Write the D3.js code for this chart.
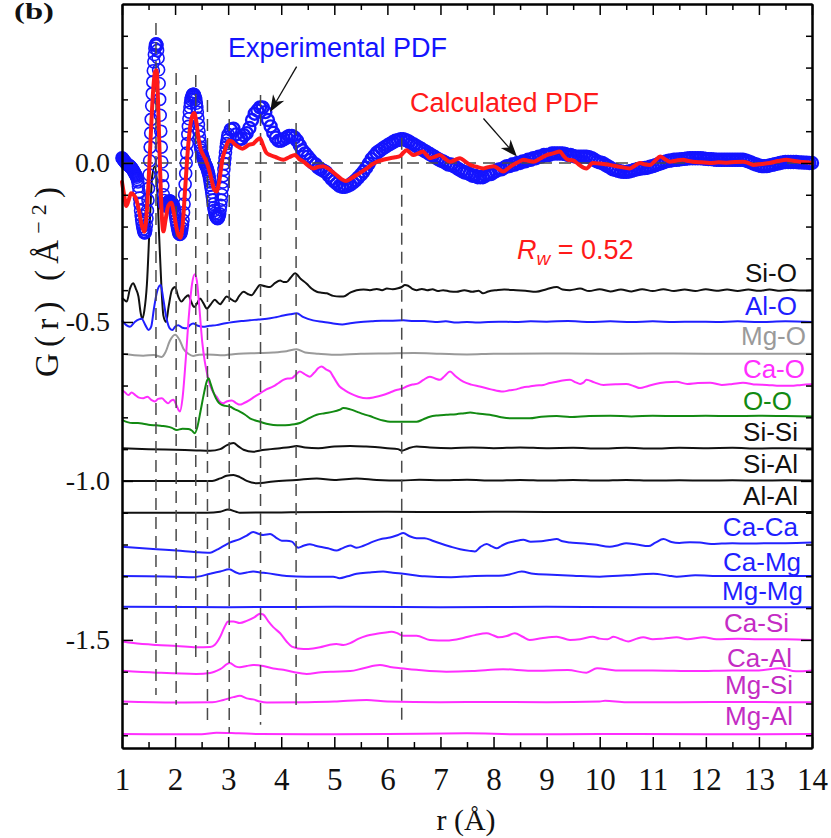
<!DOCTYPE html>
<html>
<head>
<meta charset="utf-8">
<script src="https://cdn.jsdelivr.net/npm/d3@7"></script>
<style>
  body { margin: 0; background: #fff; }
  svg { display: block; }
</style>
</head>
<body>
<svg id="chart" width="831" height="838"></svg>
<script>
// ---------------- data ----------------
// Experimental G(r): fine section r = 1.00 .. 3.00 (step 0.01)
const expFine = [
  .016,.014,.012,.009,.007,.005,.003,.001,-.001,-.003,
  -.005,-.006,-.007,-.008,-.009,-.010,-.012,-.014,-.016,-.018,
  -.020,-.023,-.026,-.029,-.032,-.035,-.038,-.041,-.045,-.052,
  -.060,-.074,-.090,-.110,-.130,-.150,-.165,-.178,-.190,-.200,
  -.208,-.215,-.219,-.220,-.217,-.210,-.195,-.175,-.150,-.117,
  -.080,-.037,.007,.050,.094,.137,.180,.218,.255,.290,
  .318,.341,.360,.370,.375,.374,.370,.354,.330,.293,
  .250,.200,.150,.100,.050,.003,-.040,-.072,-.100,-.118,
  -.130,-.133,-.135,-.135,-.132,-.128,-.125,-.123,-.121,-.120,
  -.120,-.120,-.121,-.123,-.125,-.128,-.131,-.135,-.140,-.149,
  -.159,-.169,-.180,-.189,-.198,-.207,-.215,-.220,-.223,-.225,
  -.223,-.220,-.215,-.205,-.194,-.180,-.156,-.129,-.100,-.067,
  -.033,.000,.031,.061,.090,.115,.139,.160,.176,.189,
  .200,.206,.211,.215,.216,.216,.215,.211,.206,.200,
  .188,.175,.160,.141,.121,.100,.082,.065,.050,.041,
  .033,.026,.020,.015,.010,.005,.000,-.004,-.008,-.011,
  -.015,-.021,-.027,-.033,-.040,-.050,-.060,-.070,-.080,-.092,
  -.105,-.117,-.130,-.140,-.149,-.158,-.165,-.169,-.172,-.174,
  -.175,-.174,-.171,-.166,-.160,-.147,-.133,-.117,-.100,-.080,
  -.060,-.040,-.020,-.002,.016,.033,.050,.061,.072,.081,
  .090
];
// Experimental G(r): coarse section r = 3.05 .. 14.00 (step 0.05)
const expCoarse = [
  .105,.108,.090,.075,.076,.087,.094,.110,.135,.155,.165,.175,.175,.160,.135,.115,.095,.080,.070,.070,
  .075,.080,.085,.085,.080,.070,.055,.040,.030,.020,.010,.000,-.005,-.015,-.020,-.025,-.030,-.040,-.050,-.058,
  -.065,-.072,-.075,-.075,-.072,-.068,-.062,-.055,-.046,-.037,-.027,-.015,-.002,.012,.022,.032,.038,.044,.050,.055,
  .060,.065,.070,.072,.075,.075,.072,.068,.062,.058,.053,.048,.043,.038,.033,.028,.023,.018,.013,.008,
  .005,.000,-.005,-.005,-.010,-.015,-.020,-.025,-.030,-.030,-.035,-.040,-.040,-.045,-.045,-.045,-.040,-.035,-.035,-.030,
  -.025,-.020,-.020,-.015,-.010,-.010,-.005,-.005,.000,.000,.005,.005,.010,.010,.015,.015,.020,.020,.025,.025,
  .025,.030,.030,.030,.030,.030,.028,.025,.025,.022,.020,.020,.020,.020,.020,.018,.015,.010,.005,.002,
  .000,-.005,-.010,-.015,-.020,-.022,-.025,-.027,-.028,-.028,-.027,-.025,-.022,-.020,-.018,-.017,-.016,-.015,-.012,-.010,
  -.007,-.004,-.001,.002,.005,.007,.008,.010,.010,.011,.012,.013,.014,.015,.015,.015,.015,.015,.014,.013,
  .012,.012,.011,.010,.010,.010,.010,.010,.010,.010,.010,.010,.010,.010,.008,.005,.002,-.002,-.005,-.008,
  -.010,-.010,-.010,-.008,-.006,-.004,-.002,.000,.002,.003,.003,.003,.003,.003,.002,.002,.001,.001,.000,.000
];

// Calculated G(r) as [r, G]
const calc = [
  [1.00,-0.060],[1.04,-0.100],[1.08,-0.135],[1.12,-0.120],[1.17,-0.095],[1.22,-0.100],[1.27,-0.115],
  [1.32,-0.150],[1.37,-0.195],[1.42,-0.216],[1.46,-0.170],[1.50,-0.060],[1.54,0.080],[1.58,0.210],
  [1.62,0.285],[1.65,0.292],[1.68,0.190],[1.71,0.020],[1.74,-0.130],[1.78,-0.215],[1.82,-0.180],
  [1.87,-0.135],[1.93,-0.125],[1.98,-0.160],[2.04,-0.215],[2.10,-0.235],[2.14,-0.200],[2.19,-0.080],
  [2.25,0.060],[2.31,0.140],[2.36,0.157],[2.40,0.130],[2.44,0.080],[2.48,0.045],[2.53,0.025],
  [2.58,0.008],[2.63,-0.015],[2.69,-0.055],[2.74,-0.085],[2.78,-0.090],[2.83,-0.060],[2.89,0.010],
  [2.95,0.045],[3.01,0.070],[3.07,0.068],[3.13,0.058],[3.20,0.050],[3.27,0.045],[3.33,0.050],
  [3.40,0.058],[3.47,0.060],[3.53,0.070],[3.60,0.078],[3.66,0.055],[3.72,0.032],[3.79,0.025],
  [3.90,0.018],[4.04,0.010],[4.15,0.018],[4.26,0.025],[4.34,0.012],[4.42,0.004],[4.51,-0.008],
  [4.60,-0.017],[4.70,-0.012],[4.79,-0.010],[4.86,-0.015],[4.92,-0.022],[5.04,-0.038],[5.13,-0.050],
  [5.22,-0.057],[5.32,-0.048],[5.42,-0.038],[5.52,-0.027],[5.61,-0.017],[5.70,-0.006],[5.80,0.004],
  [5.92,0.010],[6.05,0.015],[6.15,0.018],[6.24,0.022],[6.30,0.032],[6.36,0.040],[6.43,0.032],
  [6.49,0.025],[6.58,0.030],[6.67,0.036],[6.74,0.025],[6.80,0.015],[6.90,0.020],[6.99,0.025],
  [7.08,0.014],[7.18,0.004],[7.28,0.010],[7.37,0.015],[7.47,0.004],[7.56,-0.006],[7.68,-0.012],
  [7.81,-0.017],[7.90,-0.013],[8.00,-0.010],[8.09,-0.018],[8.18,-0.027],[8.28,-0.016],[8.37,-0.006],
  [8.47,0.003],[8.56,0.010],[8.66,0.007],[8.75,0.004],[8.88,0.014],[9.00,0.025],[9.12,0.030],
  [9.25,0.036],[9.32,0.022],[9.40,0.010],[9.50,0.008],[9.60,-0.004],[9.75,-0.017],[9.87,0.000],
  [10.00,-0.002],[10.19,-0.006],[10.38,-0.012],[10.57,-0.017],[10.67,-0.008],[10.76,0.000],[10.86,-0.005],
  [10.95,-0.006],[11.05,0.008],[11.14,0.020],[11.23,0.012],[11.32,0.004],[11.45,0.008],[11.57,0.010],
  [11.67,0.006],[11.76,0.004],[11.92,0.002],[12.08,0.000],[12.24,0.002],[12.39,0.001],[12.55,0.003],
  [12.70,0.004],[12.80,0.000],[12.89,-0.006],[13.05,-0.003],[13.20,0.000],[13.36,0.006],[13.52,0.010],
  [13.65,0.007],[13.77,0.004],[13.90,0.002],[14.00,0.000]
];

// Partial pair functions as [r, G] (drawn shifted by their offsets)
const pSiO = [
  [1.00,-0.025],[1.04,-0.030],[1.09,-0.036],[1.15,0.005],[1.21,0.022],[1.26,0.005],[1.31,-0.020],
  [1.35,-0.070],[1.38,-0.090],[1.42,-0.065],[1.47,0.020],[1.52,0.200],[1.57,0.360],[1.62,0.390],
  [1.66,0.330],[1.70,0.170],[1.74,0.020],[1.78,-0.080],[1.83,-0.100],[1.88,-0.050],[1.94,0.000],
  [2.00,0.010],[2.06,-0.020],[2.12,-0.036],[2.18,-0.025],[2.25,-0.016],[2.30,-0.035],[2.36,-0.053],
  [2.42,-0.040],[2.47,-0.026],[2.53,-0.040],[2.60,-0.058],[2.67,-0.045],[2.75,-0.030],[2.80,-0.038],
  [2.85,-0.044],[2.91,-0.032],[2.97,-0.020],[3.05,-0.028],[3.13,-0.036],[3.21,-0.018],[3.29,-0.005],
  [3.37,-0.012],[3.44,-0.016],[3.52,0.000],[3.60,0.016],[3.70,0.012],[3.79,0.010],[3.88,0.022],
  [3.98,0.030],[4.04,0.026],[4.10,0.026],[4.18,0.040],[4.26,0.053],[4.37,0.035],[4.48,0.020],
  [4.57,0.005],[4.67,-0.005],[4.76,-0.008],[4.86,-0.010],[4.98,-0.018],[5.10,-0.020],[5.17,-0.020],
  [5.30,-0.008],[5.42,0.000],[5.55,0.002],[5.67,0.000],[5.80,0.004],[5.90,0.000],[5.99,0.005],
  [6.10,0.003],[6.20,0.006],[6.27,0.010],[6.33,0.016],[6.39,0.014],[6.47,0.004],[6.55,0.000],
  [6.65,0.004],[6.75,0.000],[6.85,0.003],[6.95,-0.003],[7.05,0.000],[7.18,-0.004],[7.30,-0.005],
  [7.45,0.000],[7.60,-0.005],[7.72,-0.002],[7.80,-0.010],[7.90,-0.004],[8.06,0.000],[8.20,0.002],
  [8.43,0.000],[8.60,-0.002],[8.80,-0.005],[9.00,0.003],[9.19,0.010],[9.30,0.002],[9.44,0.000],
  [9.63,0.005],[9.80,-0.003],[10.0,0.003],[10.2,-0.004],[10.4,0.002],[10.6,-0.004],[10.8,0.003],
  [11.0,-0.003],[11.2,0.003],[11.4,-0.003],[11.6,0.002],[11.8,-0.003],[12.0,0.003],[12.2,-0.002],
  [12.4,0.002],[12.6,-0.003],[12.8,0.002],[13.0,-0.002],[13.2,0.002],[13.4,-0.002],[13.6,0.001],
  [13.8,-0.001],[14.0,0.000]
];
const pAlO = [
  [1.00,0.005],[1.08,-0.010],[1.15,-0.015],[1.24,0.000],[1.32,0.008],[1.37,0.010],[1.44,-0.010],
  [1.50,-0.025],[1.55,-0.015],[1.60,0.040],[1.66,0.095],[1.73,0.116],[1.78,0.070],[1.84,0.010],
  [1.90,-0.020],[1.95,-0.025],[2.00,-0.015],[2.06,-0.010],[2.14,-0.018],[2.22,-0.020],[2.28,-0.010],
  [2.34,-0.005],[2.43,-0.012],[2.53,-0.015],[2.65,-0.012],[2.78,-0.010],[2.95,-0.004],[3.10,0.000],
  [3.25,0.003],[3.41,0.005],[3.57,0.008],[3.73,0.010],[3.90,0.015],[4.04,0.020],[4.17,0.024],
  [4.29,0.027],[4.42,0.015],[4.60,0.005],[4.80,0.000],[4.98,-0.005],[5.15,-0.008],[5.30,-0.004],
  [5.50,0.000],[5.70,0.002],[5.90,0.004],[6.10,0.004],[6.30,0.005],[6.50,0.003],[6.70,0.003],
  [6.90,0.000],[7.10,0.002],[7.30,-0.002],[7.50,0.000],[7.70,-0.002],[7.90,0.000],[8.10,0.001],
  [8.40,0.000],[8.70,0.002],[9.00,0.001],[9.40,0.003],[9.80,0.000],[10.2,0.002],[10.6,0.000],
  [11.0,0.002],[11.4,0.000],[11.8,0.001],[12.2,0.000],[12.6,0.002],[13.0,0.000],[13.5,0.002],[14.0,0.000]
];
const pMgO = [
  [1.00,0.000],[1.40,-0.006],[1.60,-0.004],[1.75,-0.010],[1.82,0.005],[1.90,0.040],[2.00,0.060],
  [2.08,0.045],[2.16,0.015],[2.25,0.000],[2.34,-0.007],[2.45,-0.003],[2.60,-0.002],[2.85,-0.005],
  [3.20,0.000],[3.60,0.002],[3.85,0.004],[4.10,0.008],[4.29,0.014],[4.45,0.004],[4.70,0.000],
  [5.00,-0.003],[5.50,0.000],[6.00,0.001],[6.50,0.002],[7.00,0.000],[7.50,-0.002],[8.00,0.000],
  [9.00,0.001],[10.0,0.000],[11.0,0.001],[12.0,0.000],[13.0,0.000],[14.0,0.000]
];
const pCaO = [
  [1.00,-0.014],[1.06,-0.022],[1.12,-0.030],[1.18,-0.022],[1.25,-0.030],[1.32,-0.038],[1.40,-0.040],
  [1.48,-0.035],[1.55,-0.045],[1.62,-0.050],[1.68,-0.042],[1.75,-0.040],[1.82,-0.050],[1.87,-0.056],
  [1.92,-0.048],[1.97,-0.045],[2.02,-0.060],[2.06,-0.075],[2.09,-0.082],[2.14,-0.040],[2.20,0.080],
  [2.26,0.220],[2.32,0.320],[2.37,0.350],[2.41,0.330],[2.46,0.240],[2.51,0.140],[2.56,0.075],
  [2.60,0.040],[2.66,0.000],[2.72,-0.022],[2.78,-0.035],[2.84,-0.050],[2.91,-0.056],[2.97,-0.050],
  [3.07,-0.047],[3.15,-0.055],[3.22,-0.060],[3.30,-0.055],[3.41,-0.045],[3.50,-0.035],[3.60,-0.025],
  [3.72,-0.012],[3.85,-0.003],[3.95,0.008],[4.04,0.018],[4.12,0.022],[4.20,0.023],[4.28,0.035],
  [4.35,0.044],[4.44,0.036],[4.54,0.028],[4.62,0.040],[4.70,0.055],[4.76,0.060],[4.85,0.050],
  [4.92,0.044],[4.98,0.028],[5.10,-0.003],[5.20,-0.015],[5.30,-0.025],[5.45,-0.035],[5.61,-0.040],
  [5.75,-0.037],[5.92,-0.030],[6.05,-0.022],[6.17,-0.014],[6.27,-0.010],[6.36,-0.003],[6.47,0.003],
  [6.58,0.007],[6.68,0.018],[6.80,0.028],[6.90,0.022],[6.99,0.018],[7.08,0.030],[7.18,0.044],
  [7.28,0.030],[7.43,0.012],[7.58,0.003],[7.74,-0.003],[7.95,-0.012],[8.18,-0.019],[8.30,-0.015],
  [8.43,-0.012],[8.55,-0.006],[8.68,-0.003],[8.80,0.000],[8.94,0.002],[9.06,0.008],[9.19,0.012],
  [9.30,0.016],[9.44,0.018],[9.55,0.010],[9.63,0.005],[9.70,0.010],[9.75,0.018],[9.90,0.010],
  [10.07,0.002],[10.30,0.004],[10.50,0.005],[10.65,-0.002],[10.76,-0.008],[10.90,-0.002],[11.05,0.005],
  [11.25,0.010],[11.45,0.012],[11.65,0.005],[11.85,0.008],[12.08,0.009],[12.30,0.002],[12.50,0.005],
  [12.70,0.009],[12.95,0.003],[13.15,0.002],[13.40,-0.001],[13.60,-0.001],[13.80,0.002],[14.00,0.004]
];
const pOO = [
  [1.00,-0.008],[1.10,-0.015],[1.20,-0.018],[1.30,-0.018],[1.40,-0.020],[1.53,-0.024],[1.65,-0.025],
  [1.75,-0.027],[1.84,-0.029],[1.94,-0.033],[2.03,-0.040],[2.14,-0.036],[2.25,-0.037],[2.32,-0.042],
  [2.37,-0.050],[2.42,-0.030],[2.48,0.020],[2.55,0.080],[2.60,0.115],[2.63,0.123],[2.67,0.105],
  [2.72,0.080],[2.77,0.060],[2.83,0.045],[2.88,0.039],[2.95,0.036],[3.03,0.034],[3.12,0.026],
  [3.22,0.018],[3.32,0.008],[3.41,-0.003],[3.50,-0.009],[3.60,-0.014],[3.72,-0.020],[3.85,-0.024],
  [4.00,-0.025],[4.15,-0.024],[4.25,-0.022],[4.35,-0.018],[4.50,-0.005],[4.67,0.008],[4.82,0.013],
  [4.98,0.018],[5.10,0.024],[5.17,0.029],[5.30,0.025],[5.42,0.018],[5.55,0.010],[5.67,0.004],
  [5.80,-0.004],[5.92,-0.010],[6.05,-0.014],[6.30,-0.014],[6.55,-0.014],[6.68,-0.006],[6.80,0.002],
  [6.95,0.006],[7.11,0.008],[7.30,0.010],[7.45,0.013],[7.56,0.015],[7.70,0.012],[7.93,0.008],
  [8.10,0.002],[8.31,-0.003],[8.50,-0.003],[8.68,-0.003],[8.90,0.002],[9.19,0.004],[9.44,0.001],
  [9.80,0.004],[10.2,0.005],[10.6,0.003],[11.0,0.005],[11.5,0.004],[12.0,0.005],[12.5,0.004],
  [13.0,0.005],[13.5,0.004],[14.0,0.003]
];
const pSiSi = [
  [1.00,0.003],[1.50,0.000],[2.00,-0.002],[2.40,-0.004],[2.66,-0.005],[2.85,0.000],[2.97,0.012],
  [3.10,0.019],[3.20,0.008],[3.29,-0.002],[3.47,-0.008],[3.65,-0.003],[3.98,0.003],[4.15,0.006],
  [4.29,0.010],[4.45,0.005],[4.70,0.003],[5.00,0.008],[5.30,0.010],[5.60,0.008],[6.00,0.003],
  [6.20,0.000],[6.27,-0.005],[6.40,0.003],[6.55,0.008],[6.80,0.005],[7.20,0.003],[7.60,0.005],
  [8.00,0.003],[8.50,0.005],[9.00,0.003],[9.50,0.004],[10.0,0.002],[10.5,0.004],[11.0,0.002],
  [11.5,0.004],[12.0,0.003],[12.5,0.004],[13.0,0.002],[13.5,0.003],[14.0,0.002]
];
const pSiAl = [
  [1.00,0.000],[2.00,0.000],[2.70,0.000],[2.85,0.008],[2.97,0.016],[3.10,0.019],[3.22,0.012],
  [3.35,0.000],[3.54,-0.007],[3.85,-0.002],[4.29,0.003],[4.67,0.008],[5.00,0.003],[5.42,0.008],
  [5.80,0.003],[6.27,0.001],[6.60,0.004],[7.00,0.002],[7.50,0.004],[8.00,0.001],[8.50,0.003],
  [9.00,0.001],[9.50,0.003],[10.0,0.001],[10.5,0.003],[11.0,0.001],[11.5,0.002],[12.0,0.001],
  [12.5,0.002],[13.0,0.001],[13.5,0.002],[14.0,0.001]
];
const pAlAl = [
  [1.00,0.000],[2.60,0.000],[2.85,0.003],[3.00,0.010],[3.15,0.003],[3.22,0.000],[4.00,0.001],
  [5.00,0.002],[6.00,0.003],[7.00,0.002],[8.00,0.003],[9.00,0.002],[10.0,0.002],[11.0,0.002],
  [12.0,0.002],[13.0,0.002],[14.0,0.002]
];
const pCaCa = [
  [1.00,-0.007],[1.65,-0.015],[2.03,-0.019],[2.40,-0.024],[2.66,-0.026],[2.78,-0.017],[2.90,-0.006],
  [3.03,0.006],[3.22,0.017],[3.35,0.028],[3.47,0.039],[3.57,0.034],[3.66,0.030],[3.79,0.033],
  [3.90,0.022],[4.01,0.012],[4.10,0.012],[4.20,0.009],[4.32,-0.010],[4.42,-0.004],[4.54,0.001],
  [4.63,-0.003],[4.73,-0.007],[4.88,-0.012],[5.04,-0.019],[5.15,-0.012],[5.30,-0.003],[5.42,-0.010],
  [5.55,-0.004],[5.73,0.009],[5.90,0.018],[6.05,0.022],[6.20,0.030],[6.30,0.036],[6.42,0.026],
  [6.55,0.020],[6.70,0.020],[6.85,0.012],[6.99,0.004],[7.18,-0.006],[7.37,-0.015],[7.55,-0.020],
  [7.65,-0.022],[7.75,-0.008],[7.87,0.002],[7.97,-0.006],[8.06,-0.012],[8.15,-0.004],[8.25,0.004],
  [8.40,0.010],[8.56,0.015],[8.70,0.009],[8.90,0.010],[9.05,0.014],[9.19,0.017],[9.30,0.010],
  [9.44,0.006],[9.63,0.004],[9.90,0.000],[10.19,-0.007],[10.35,-0.002],[10.50,0.004],[10.70,0.000],
  [10.92,-0.005],[11.05,0.006],[11.20,0.017],[11.35,0.008],[11.50,0.005],[11.70,0.007],[11.89,0.006],
  [12.10,0.002],[12.30,0.003],[12.50,0.004],[12.80,0.003],[13.10,0.004],[13.50,0.004],[14.00,0.006]
];
const pCaMg = [
  [1.00,0.001],[2.00,-0.001],[2.34,-0.003],[2.66,0.008],[2.85,0.015],[3.02,0.022],[3.15,0.012],
  [3.22,0.008],[3.35,0.012],[3.47,0.015],[3.60,0.012],[3.73,0.010],[4.10,0.001],[4.48,-0.001],
  [4.98,-0.001],[5.10,-0.006],[5.25,0.000],[5.42,0.008],[5.65,0.012],[5.92,0.015],[6.10,0.011],
  [6.30,0.008],[6.70,0.000],[7.20,-0.003],[7.65,0.001],[8.10,0.002],[8.30,0.006],[8.53,0.015],
  [8.75,0.008],[9.10,0.005],[9.50,0.002],[10.0,-0.001],[10.5,0.003],[11.01,0.008],[11.3,0.002],
  [11.45,-0.001],[11.8,0.003],[12.3,0.001],[12.8,0.001],[13.3,0.001],[14.0,0.001]
];
const pMgMg = [
  [1.00,0.004],[3.00,0.003],[5.00,0.004],[7.00,0.003],[9.00,0.004],[11.0,0.003],[14.0,0.003]
];
const pCaSi = [
  [1.00,-0.005],[1.21,-0.010],[1.65,-0.016],[2.03,-0.019],[2.40,-0.023],[2.66,-0.022],[2.75,-0.015],
  [2.85,0.010],[2.93,0.040],[3.00,0.058],[3.10,0.058],[3.22,0.053],[3.35,0.060],[3.50,0.072],
  [3.60,0.082],[3.66,0.080],[3.75,0.060],[3.85,0.040],[3.98,0.021],[4.10,-0.005],[4.20,-0.021],
  [4.42,-0.029],[4.60,-0.027],[4.73,-0.023],[4.90,-0.016],[5.04,-0.013],[5.17,-0.016],[5.30,-0.010],
  [5.45,0.003],[5.61,0.013],[5.80,0.019],[6.00,0.024],[6.08,0.026],[6.20,0.020],[6.30,0.013],
  [6.55,0.013],[6.80,0.000],[7.11,-0.002],[7.43,0.006],[7.65,0.015],[7.87,0.021],[8.00,0.014],
  [8.10,0.008],[8.25,0.012],[8.40,0.021],[8.55,0.010],[8.68,0.000],[8.90,0.005],[9.19,0.010],
  [9.44,0.000],[9.63,0.002],[9.87,0.010],[10.0,0.004],[10.15,0.002],[10.26,0.010],[10.40,0.002],
  [10.54,-0.005],[10.70,0.004],[10.82,0.008],[11.0,0.002],[11.2,0.004],[11.45,0.008],[11.65,0.002],
  [11.96,0.008],[12.2,0.002],[12.6,0.004],[13.0,0.002],[13.5,0.002],[14.0,0.000]
];
const pCaAl = [
  [1.00,0.003],[1.65,-0.003],[2.40,-0.007],[2.66,-0.004],[2.85,0.008],[3.03,0.027],[3.15,0.016],
  [3.22,0.014],[3.35,0.018],[3.47,0.021],[3.66,0.018],[3.85,0.010],[4.04,0.006],[4.25,-0.002],
  [4.48,-0.007],[4.75,-0.002],[4.98,0.000],[5.30,0.002],[5.55,0.011],[5.86,0.021],[6.05,0.015],
  [6.24,0.011],[6.55,0.006],[7.11,0.000],[7.60,0.002],[8.18,0.008],[8.70,0.003],[9.40,0.005],
  [9.75,-0.003],[9.95,0.011],[10.3,0.004],[11.0,0.004],[11.8,0.002],[12.5,0.004],[13.0,0.004],
  [13.4,0.011],[13.7,0.001],[14.0,0.004]
];
const pMgSi = [
  [1.00,0.006],[2.00,0.003],[2.70,0.004],[2.91,0.011],[3.10,0.020],[3.22,0.024],[3.35,0.016],
  [3.47,0.013],[3.60,0.006],[3.73,0.003],[4.50,0.004],[5.00,0.006],[5.61,0.011],[6.00,0.006],
  [7.00,0.004],[8.00,0.005],[9.00,0.004],[10.0,0.006],[10.1,0.009],[10.5,0.004],[11.5,0.004],
  [12.5,0.005],[13.5,0.004],[14.0,0.004]
];
const pMgAl = [
  [1.00,0.004],[2.50,0.003],[2.78,0.008],[3.20,0.006],[3.60,0.004],[4.50,0.003],[6.00,0.004],
  [7.50,0.006],[8.50,0.003],[10.0,0.004],[12.0,0.003],[14.0,0.004]
];

const partialNames = ["Si-O","Al-O","Mg-O","Ca-O","O-O","Si-Si","Si-Al","Al-Al",
                      "Ca-Ca","Ca-Mg","Mg-Mg","Ca-Si","Ca-Al","Mg-Si","Mg-Al"];
const partialData = [pSiO,pAlO,pMgO,pCaO,pOO,pSiSi,pSiAl,pAlAl,
                     pCaCa,pCaMg,pMgMg,pCaSi,pCaAl,pMgSi,pMgAl];
const partialOffsets = [-0.4,-0.5,-0.6,-0.7,-0.8,-0.9,-1.0,-1.1,-1.2,-1.3,-1.4,-1.5,-1.6,-1.7,-1.8];

// Marker lines for peak positions (r, top G, bottom G)
const markerR      = [1.64, 2.02, 2.39, 2.61, 3.02, 3.61, 4.28, 6.27];
const markerTop    = [0.44, 0.283, 0.277, 0.198, 0.198, 0.214, 0.126, 0.079];
const markerBottom = [-1.673, -1.704, -1.563, -1.758, -1.792, -1.767, -1.714, -1.761];

const xTickValues = [1,2,3,4,5,6,7,8,9,10,11,12,13,14];
const yTickValues = [0, -0.5, -1.0, -1.5];
const yTickLabels = ["0.0", "-0.5", "-1.0", "-1.5"];
const rwValue = "0.52";

// ---------------- styles ----------------
const BLUE = "#1414ff", RED = "#ff1a1a", MAG = "#ff2eff", MAGLBL = "#c42cc4";
const partialColors = ["#111","#1f1fff","#9a9a9a",MAG,"#128a12","#111","#111","#111",
                       "#2222ff","#2222ff","#2222ff",MAG,MAG,MAG,MAG];
const labelColors   = ["#111","#1f1fff","#9a9a9a",MAG,"#128a12","#111","#111","#111",
                       "#1f1fff","#1f1fff","#1f1fff",MAGLBL,MAGLBL,MAGLBL,MAGLBL];
const labelRight = [797,797,806,805,792,798,798,798,798,801,803,789,792,793,793];
const labelShift = [-8,-7,-9,-8,-7,-8,-8,-8,-9,-5,-8,-8,-5,-9,-10];

const SANS = "'Liberation Sans', Arial, Helvetica, sans-serif";
const SERIF = "'Liberation Serif', 'Times New Roman', Times, serif";

// ---------------- chart ----------------
const svg = d3.select("#chart");
const x = d3.scaleLinear().domain([1, 14]).range([122, 812]);
const y = d3.scaleLinear().domain([-1.84, 0.5]).range([748, 4]);

const line = d3.line().x(d => x(d[0])).y(d => y(d[1])).curve(d3.curveMonotoneX);

// partial curves
const gPart = svg.append("g");
partialData.forEach((arr, i) => {
  const shifted = arr.map(d => [d[0], d[1] + partialOffsets[i]]);
  gPart.append("path")
    .attr("d", line(shifted))
    .attr("fill", "none")
    .attr("stroke", partialColors[i])
    .attr("stroke-width", 2)
    .attr("stroke-linejoin", "round");
  svg.append("text")
    .attr("x", labelRight[i])
    .attr("y", y(partialOffsets[i]) + labelShift[i])
    .attr("text-anchor", "end")
    .attr("font-family", SANS)
    .attr("font-size", 26)
    .attr("fill", labelColors[i])
    .text(partialNames[i]);
});

// experimental points (open circles); the coarser-sampled tail gets a
// heavier ring so its overlapping circles read as a continuous band
const expPts = expFine.map((g, i) => [1 + i * 0.01, g, 1.6])
  .concat(expCoarse.map((g, i) => [3.05 + i * 0.05, g, 2.4]));
svg.append("g").selectAll("circle")
  .data(expPts)
  .join("circle")
  .attr("cx", d => x(d[0]))
  .attr("cy", d => y(d[1]))
  .attr("r", 6)
  .attr("fill", "none")
  .attr("stroke", BLUE)
  .attr("stroke-width", d => d[2]);

// dashed guide lines
const gDash = svg.append("g")
  .attr("stroke", "#4a4a4a")
  .attr("stroke-width", 1.5)
  .attr("stroke-dasharray", "12,7");
gDash.append("line")
  .attr("x1", x(1)).attr("x2", x(14))
  .attr("y1", y(0)).attr("y2", y(0));
markerR.forEach((r, i) => {
  gDash.append("line")
    .attr("x1", x(r)).attr("x2", x(r))
    .attr("y1", y(markerTop[i])).attr("y2", y(markerBottom[i]));
});

// calculated curve
svg.append("path")
  .attr("d", line(calc))
  .attr("fill", "none")
  .attr("stroke", RED)
  .attr("stroke-width", 4)
  .attr("stroke-linejoin", "round")
  .attr("stroke-linecap", "round");

// axes (ticks point inward)
function styleAxis(g) {
  g.select(".domain").attr("stroke", "#000").attr("stroke-width", 2);
  g.selectAll(".tick line").attr("stroke", "#000").attr("stroke-width", 1.5);
}
const xMinor = d3.range(1.5, 14, 1);
const yMinor = d3.range(-18, 5, 1).map(v => v / 10).filter(v => yTickValues.indexOf(v) < 0);

const bottom = svg.append("g").attr("transform", `translate(0,${y(-1.84)})`)
  .call(d3.axisBottom(x).tickValues(xTickValues).tickSize(-11).tickSizeOuter(0).tickPadding(20));
bottom.selectAll("text").attr("font-family", SERIF).attr("font-size", 31).attr("fill", "#111");
styleAxis(bottom);
styleAxis(svg.append("g").attr("transform", `translate(0,${y(-1.84)})`)
  .call(d3.axisBottom(x).tickValues(xMinor).tickSize(-6).tickSizeOuter(0).tickFormat("")));

styleAxis(svg.append("g").attr("transform", `translate(0,${y(0.5)})`)
  .call(d3.axisTop(x).tickValues(xTickValues).tickSize(-11).tickSizeOuter(0).tickFormat("")));
styleAxis(svg.append("g").attr("transform", `translate(0,${y(0.5)})`)
  .call(d3.axisTop(x).tickValues(xMinor).tickSize(-6).tickSizeOuter(0).tickFormat("")));

const left = svg.append("g").attr("transform", `translate(${x(1)},0)`)
  .call(d3.axisLeft(y).tickValues(yTickValues).tickSize(-11).tickSizeOuter(0).tickPadding(12)
    .tickFormat((d, i) => yTickLabels[i]));
left.selectAll("text").attr("font-family", SERIF).attr("font-size", 28).attr("fill", "#111");
styleAxis(left);
styleAxis(svg.append("g").attr("transform", `translate(${x(1)},0)`)
  .call(d3.axisLeft(y).tickValues(yMinor).tickSize(-6).tickSizeOuter(0).tickFormat("")));

styleAxis(svg.append("g").attr("transform", `translate(${x(14)},0)`)
  .call(d3.axisRight(y).tickValues(yTickValues).tickSize(-11).tickSizeOuter(0).tickFormat("")));
styleAxis(svg.append("g").attr("transform", `translate(${x(14)},0)`)
  .call(d3.axisRight(y).tickValues(yMinor).tickSize(-6).tickSizeOuter(0).tickFormat("")));

// axis titles
svg.append("text")
  .attr("x", 466).attr("y", 830)
  .attr("text-anchor", "middle")
  .attr("font-family", SERIF).attr("font-size", 30).attr("fill", "#111")
  .text("r (Å)");

const yt = svg.append("text")
  .attr("transform", "translate(58,282) rotate(-90)")
  .attr("text-anchor", "middle")
  .attr("font-family", SERIF).attr("font-size", 33).attr("fill", "#111")
  .attr("textLength", 190).attr("lengthAdjust", "spacing");
yt.append("tspan").text("G(r) (Å");
yt.append("tspan").attr("font-size", 22).attr("dy", -12).text("−2");
yt.append("tspan").attr("dy", 12).text(")");

// panel letter
svg.append("text")
  .attr("x", 14).attr("y", 19)
  .attr("font-family", SERIF).attr("font-weight", "bold").attr("font-size", 23).attr("fill", "#111")
  .attr("textLength", 40).attr("lengthAdjust", "spacingAndGlyphs")
  .text("(b)");

// legend-style annotations
svg.append("text")
  .attr("x", 228).attr("y", 57)
  .attr("font-family", SANS).attr("font-size", 27).attr("fill", BLUE)
  .text("Experimental PDF");
svg.append("text")
  .attr("x", 410).attr("y", 112)
  .attr("font-family", SANS).attr("font-size", 27).attr("fill", RED)
  .text("Calculated PDF");

const rw = svg.append("text")
  .attr("x", 517).attr("y", 259)
  .attr("font-family", SANS).attr("font-size", 27).attr("fill", RED);
rw.append("tspan").attr("font-style", "italic").text("R");
rw.append("tspan").attr("font-style", "italic").attr("font-size", 19).attr("dy", 6).text("w");
rw.append("tspan").attr("dy", -6).text(" = " + rwValue);

// arrows
const arrowFrom = [[4.29, 0.303], [7.81, 0.14]];
const arrowTo   = [[3.79, 0.16],  [8.44, 0.02]];
arrowFrom.forEach((f, i) => {
  const x0 = x(f[0]), y0 = y(f[1]);
  const x1 = x(arrowTo[i][0]), y1 = y(arrowTo[i][1]);
  const dx = x1 - x0, dy = y1 - y0, len = Math.hypot(dx, dy);
  const ux = dx / len, uy = dy / len, px = -uy, py = ux;
  const L = 17, W = 6.5, N = 12;
  svg.append("line")
    .attr("x1", x0).attr("y1", y0)
    .attr("x2", x1 - ux * N).attr("y2", y1 - uy * N)
    .attr("stroke", "#111").attr("stroke-width", 1.3);
  const pts = [
    [x1, y1],
    [x1 - ux * L + px * W, y1 - uy * L + py * W],
    [x1 - ux * N, y1 - uy * N],
    [x1 - ux * L - px * W, y1 - uy * L - py * W]
  ];
  svg.append("path")
    .attr("d", "M" + pts.map(p => p.join(",")).join("L") + "Z")
    .attr("fill", "#111");
});
</script>
</body>
</html>
